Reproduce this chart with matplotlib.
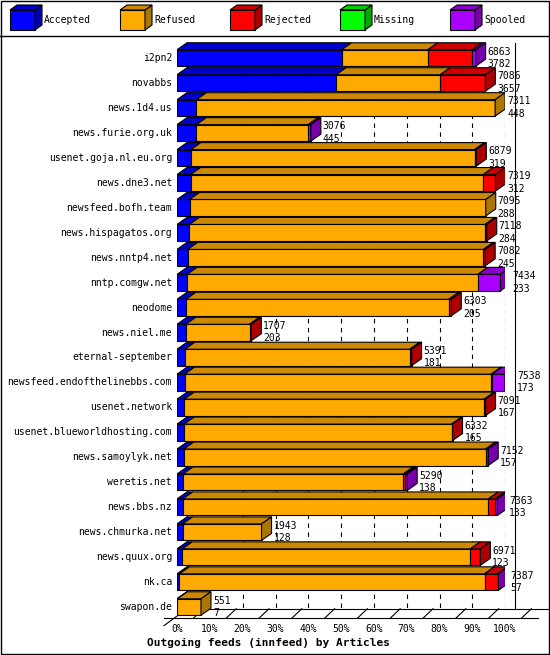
import matplotlib
matplotlib.use("Agg")
import matplotlib.pyplot as plt
from matplotlib.patches import Polygon, Rectangle

plt.rcParams['font.family'] = ['DejaVu Sans Mono']

# feeds, top to bottom
hosts = ["i2pn2", "novabbs", "news.1d4.us", "news.furie.org.uk", "usenet.goja.nl.eu.org",
         "news.dne3.net", "newsfeed.bofh.team", "news.hispagatos.org", "news.nntp4.net",
         "nntp.comgw.net", "neodome", "news.niel.me", "eternal-september",
         "newsfeed.endofthelinebbs.com", "usenet.network", "usenet.blueworldhosting.com",
         "news.samoylyk.net", "weretis.net", "news.bbs.nz", "news.chmurka.net",
         "news.quux.org", "nk.ca", "swapon.de"]
totals = [6863, 7086, 7311, 3076, 6879, 7319, 7095, 7118, 7082, 7434, 6303, 1707, 5391,
          7538, 7091, 6332, 7152, 5290, 7363, 1943, 6971, 7387, 551]
accepted = [3782, 3657, 448, 445, 319, 312, 288, 284, 245, 233, 205, 203, 181,
            173, 167, 165, 157, 138, 133, 128, 123, 57, 7]
rejected = [1020, 1039, 0, 0, 40, 280, 0, 40, 40, 0, 60, 40, 40,
            20, 30, 20, 0, 50, 150, 0, 230, 300, 0]
missing = [0] * 23
spooled = [80, 0, 0, 60, 0, 0, 0, 0, 0, 520, 0, 0, 0,
           300, 0, 0, 60, 40, 60, 0, 0, 20, 0]
refused = [t - a - r - m - s for t, a, r, m, s in zip(totals, accepted, rejected, missing, spooled)]

series = ["Accepted", "Refused", "Rejected", "Missing", "Spooled"]
front = ["#0000ff", "#ffaa00", "#ff0000", "#00ff00", "#aa00ff"]
side = ["#0000aa", "#aa7700", "#aa0000", "#00aa00", "#7700aa"]
top = ["#0000cc", "#cc8800", "#cc0000", "#00cc00", "#8800cc"]

W, H = 550, 655
fig = plt.figure(figsize=(W / 100, H / 100), dpi=100)
fs = 7

# decoration layer in pixel coords
deco = fig.add_axes([0, 0, 1, 1])
deco.set_xlim(0, W)
deco.set_ylim(H, 0)
deco.axis("off")
deco.add_patch(Rectangle((0.5, 0.5), W - 1.5, H - 1.5, fill=False, ec="black", lw=1))
deco.plot([0, W], [36, 36], color="black", lw=1)
for i, name in enumerate(series):
    x0 = 10 + i * 110
    deco.add_patch(Rectangle((x0, 10), 25, 20, fc=front[i], ec="black", lw=0.8))
    deco.add_patch(Polygon([(x0 + 25, 10), (x0 + 32, 5), (x0 + 32, 25), (x0 + 25, 30)],
                           fc=side[i], ec="black", lw=0.8))
    deco.add_patch(Polygon([(x0, 10), (x0 + 7, 5), (x0 + 32, 5), (x0 + 25, 10)],
                           fc=top[i], ec="black", lw=0.8))
    deco.text(x0 + 34, 20, name, fontsize=fs, va="center")

# chart axes: 0..100% across pixels 177..505, rows 24.95 px apart
y_top, y_bot = 40, 625
ax = fig.add_axes([177 / W, 1 - y_bot / H, 328 / W, (y_bot - y_top) / H])
ax.set_xlim(0, 100)
row = 24.95
ax.set_ylim(22 + (y_bot - 607) / row, -(58 - y_top) / row)
ax.axis("off")
dx = 10 / 3.28
dy = 7 / row
bh = 0.66
floor = 22.35

# back plane and grid
ax.plot([dx, dx], [-0.6, floor - dy], color="black", lw=0.8, clip_on=False)
ax.plot([100 + dx, 100 + dx], [-0.6, floor - dy], color="black", lw=0.8, clip_on=False)
ax.plot([dx, 100 + dx + 10], [floor - dy, floor - dy], color="black", lw=0.8, clip_on=False)
ax.plot([-4, 100 + 10], [floor + 0.1, floor + 0.1], color="black", lw=0.8, clip_on=False)
ax.plot([-4, dx], [floor + 0.4, floor - dy], color="black", lw=0.8, clip_on=False)
for k in range(0, 11):
    xg = k * 10 + dx
    if 0 < k < 10:
        ax.plot([xg + 7, xg + 7], [-0.6, floor - dy], color="black", lw=0.8, ls=(0, (4, 4)), zorder=0)
    ax.plot([k * 10 + 5, k * 10 + 5 + dx], [floor + 0.1, floor - dy], color="black", lw=0.8, clip_on=False)
    ax.text(k * 10, floor + 0.55, f"{k * 10}%", fontsize=fs, ha="center", va="center", clip_on=False)
ax.text(-9, floor + 1.1, "Outgoing feeds (innfeed) by Articles", fontsize=8, weight="bold",
        va="center", clip_on=False)

mx = max(totals)
for i, h in enumerate(hosts):
    vals = [accepted[i], refused[i], rejected[i], missing[i], spooled[i]]
    left = 0.0
    yt = i - bh / 2
    yb = i + bh / 2
    last = max(j for j, v in enumerate(vals) if v > 0)
    for j, v in enumerate(vals):
        if v <= 0:
            continue
        w = v / mx * 100
        ax.barh(i, w, left=left, height=bh, color=front[j], edgecolor="black", lw=0.8, zorder=3)
        ax.add_patch(Polygon([(left, yt), (left + w, yt), (left + w + dx, yt - dy), (left + dx, yt - dy)],
                             fc=top[j], ec="black", lw=0.8, zorder=3))
        if j == last:
            e = left + w
            ax.add_patch(Polygon([(e, yt), (e, yb), (e + dx, yb - dy), (e + dx, yt - dy)],
                                 fc=side[j], ec="black", lw=0.8, zorder=3))
        left += w
    end = left + dx + 0.6
    ax.text(end, i - 0.26, str(totals[i]), fontsize=fs, va="center", zorder=4, clip_on=False)
    ax.text(end, i + 0.24, str(accepted[i]), fontsize=fs, va="center", zorder=4, clip_on=False)
    ax.text(-1.5, i, h, fontsize=fs, ha="right", va="center", clip_on=False)

fig.savefig("out.png", dpi=100)
